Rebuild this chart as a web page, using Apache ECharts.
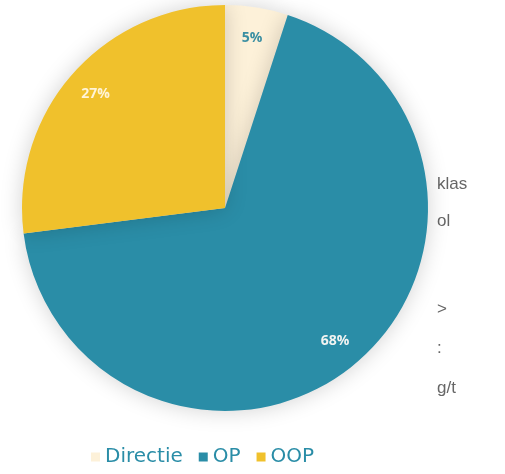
<!DOCTYPE html>
<html><head><meta charset="utf-8">
<script src="https://cdn.jsdelivr.net/npm/echarts@6/dist/echarts.min.js"></script>
<style>html,body{margin:0;padding:0;background:#fff}#c{width:505px;height:474px}</style>
</head><body><div id="c"></div>
<script>
const categories = ['Directie', 'OP', 'OOP'];
const values = [5, 68, 27];
const colors = ['#FDF1D9', '#2A8DA7', '#F0C12C'];
const labelColors = ['#3B8FA2', '#F2F4F2', '#FFF4D8'];
const sideTexts = ['klas', 'ol', '>', ':', 'g/t'];

const chart = echarts.init(document.getElementById('c'));
const data = categories.map((n, i) => ({ name: n, value: values[i], itemStyle: { color: colors[i] } }));
const labelData = categories.map((n, i) => ({ name: n, value: values[i],
  label: { color: labelColors[i] } }));
const sideY = [186, 223, 311, 350, 390];
chart.setOption({
  animation: false,
  legend: {
    top: 442, left: 86,
    itemWidth: 9, itemHeight: 9, itemGap: 16,
    icon: 'rect',
    textStyle: { color: '#2A8DA7', fontSize: 20, fontFamily: 'DejaVu Sans' },
    data: categories
  },
  graphic: sideTexts.map((t, i) => ({
    type: 'text', left: 437, top: sideY[i] - 10,
    style: { text: t, fill: '#666666', font: '17px "Liberation Sans", Arial' }
  })),
  series: [{
    type: 'pie', center: [225, 208], radius: [0, 203],
    startAngle: 90, clockwise: true,
    label: { show: false }, labelLine: { show: false },
    itemStyle: { shadowBlur: 22, shadowColor: 'rgba(0,0,0,0.18)' },
    emphasis: { disabled: true },
    data: data
  }, {
    type: 'pie', center: [225, 208], radius: [136, 203],
    startAngle: 90, clockwise: true, silent: true,
    itemStyle: { color: 'rgba(0,0,0,0)' },
    label: { show: true, position: 'inside', formatter: '{c}%',
      fontSize: 14, fontWeight: 'bold', fontFamily: 'Open Sans' },
    labelLine: { show: false },
    emphasis: { disabled: true },
    legendHoverLink: false,
    data: labelData
  }]
});
</script></body></html>
